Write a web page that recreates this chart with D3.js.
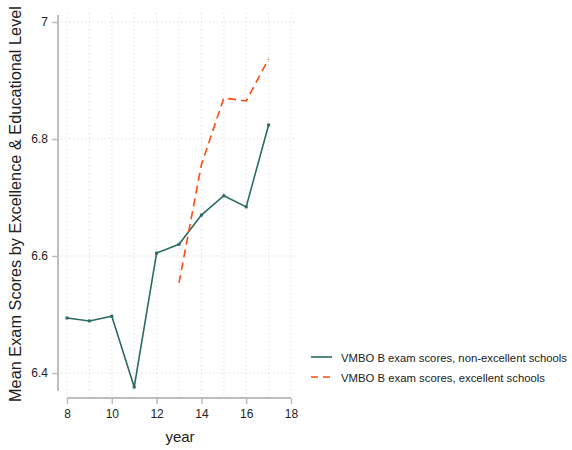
<!DOCTYPE html>
<meta charset="utf-8">
<html>
<head>
<style>
  body { margin: 0; background: #fff; }
  text { font-family: "Liberation Sans", Arial, sans-serif; fill: #222; }
</style>
</head>
<script src="https://d3js.org/d3.v7.min.js"></script>
<body>
<div id="vis"></div>
<script>
  // data
  var years = [8, 9, 10, 11, 12, 13, 14, 15, 16, 17];
  var nonExcellent = [6.494, 6.489, 6.497, 6.376, 6.605, 6.620, 6.670, 6.703, 6.684, 6.824];
  var excellentYears = [13, 14, 15, 16, 17];
  var excellent = [6.554, 6.756, 6.870, 6.865, 6.937];
  var xTicks = [8, 10, 12, 14, 16, 18];
  var xGrid = [8, 9, 10, 11, 12, 13, 14, 15, 16, 17, 18];
  var yTicks = [6.4, 6.6, 6.8, 7];
  var seriesNames = ["VMBO B exam scores, non-excellent schools", "VMBO B exam scores, excellent schools"];

  var teal = "#2b6b65", orange = "#ff4a12", axisCol = "#bdbdbd", gridCol = "#d6d6d6";

  var svg = d3.select("#vis").append("svg")
    .attr("width", 572).attr("height", 450);

  var x = d3.scaleLinear().domain([8, 18]).range([67, 291]);
  var y = d3.scaleLinear().domain([6.4, 7]).range([373, 22]);

  // gridlines
  svg.append("g").selectAll("line").data(xGrid).enter().append("line")
    .attr("x1", function(d) { return x(d); }).attr("x2", function(d) { return x(d); })
    .attr("y1", 13).attr("y2", 396)
    .style("stroke", gridCol).style("stroke-width", 1).style("stroke-dasharray", "1,3");
  svg.append("g").selectAll("line").data(yTicks).enter().append("line")
    .attr("x1", 61).attr("x2", 296)
    .attr("y1", function(d) { return y(d); }).attr("y2", function(d) { return y(d); })
    .style("stroke", gridCol).style("stroke-width", 1).style("stroke-dasharray", "1,3");

  // y axis
  var yAxis = svg.append("g").attr("transform", "translate(58,0)")
    .call(d3.axisLeft(y).tickValues(yTicks).tickSize(6).tickPadding(4).tickFormat(d3.format("")));
  yAxis.select(".domain").attr("d", "M0,15V391").style("stroke", axisCol).style("stroke-width", 2);
  yAxis.selectAll(".tick line").style("stroke", axisCol).style("stroke-width", 1.5);
  yAxis.selectAll(".tick text").style("font-size", "12px").style("font-family", "Liberation Sans, Arial, sans-serif").attr("fill", "#222");

  // x axis
  var xAxis = svg.append("g").attr("transform", "translate(0,398)")
    .call(d3.axisBottom(x).tickValues(xTicks).tickSize(6).tickPadding(5));
  xAxis.select(".domain").attr("d", "M67,0H291").style("stroke", axisCol).style("stroke-width", 2);
  xAxis.selectAll(".tick line").style("stroke", axisCol).style("stroke-width", 1.5);
  xAxis.selectAll(".tick text").style("font-size", "12px").style("font-family", "Liberation Sans, Arial, sans-serif").attr("fill", "#222");

  // axis titles
  svg.append("text")
    .attr("transform", "translate(21,204) rotate(-90)")
    .style("text-anchor", "middle").style("font-size", "16px")
    .attr("textLength", 396).attr("lengthAdjust", "spacingAndGlyphs")
    .text("Mean Exam Scores by Excellence & Educational Level");
  svg.append("text")
    .attr("x", 180).attr("y", 442)
    .style("text-anchor", "middle").style("font-size", "15px")
    .text("year");

  // lines
  var rowsA = years.map(function(d, i) { return {yr: d, v: nonExcellent[i]}; });
  var rowsB = excellentYears.map(function(d, i) { return {yr: d, v: excellent[i]}; });
  var line = d3.line().x(function(d) { return x(d.yr); }).y(function(d) { return y(d.v); });

  svg.append("path").datum(rowsA).attr("d", line)
    .style("fill", "none").style("stroke", teal).style("stroke-width", 1.6);
  svg.selectAll(".pt").data(rowsA).enter().append("rect").attr("class", "pt")
    .attr("x", function(d) { return x(d.yr) - 1.5; }).attr("y", function(d) { return y(d.v) - 1.5; })
    .attr("width", 3).attr("height", 3).style("fill", teal);

  svg.append("path").datum(rowsB).attr("d", line)
    .style("fill", "none").style("stroke", orange).style("stroke-width", 1.6)
    .style("stroke-dasharray", "8,5");

  // legend
  var legend = svg.append("g");
  [0, 1].forEach(function(i) {
    var ly = 357 + i * 20;
    legend.append("line").attr("x1", 311).attr("x2", 332).attr("y1", ly).attr("y2", ly)
      .style("stroke", i === 0 ? teal : orange).style("stroke-width", 1.6)
      .style("stroke-dasharray", i === 0 ? null : "7,5");
    legend.append("text").attr("x", 341).attr("y", ly + 4.5)
      .style("font-size", "11.5px")
      .attr("textLength", i === 0 ? 226 : 204).attr("lengthAdjust", "spacingAndGlyphs")
      .text(seriesNames[i]);
  });
</script>
</body>
</html>
